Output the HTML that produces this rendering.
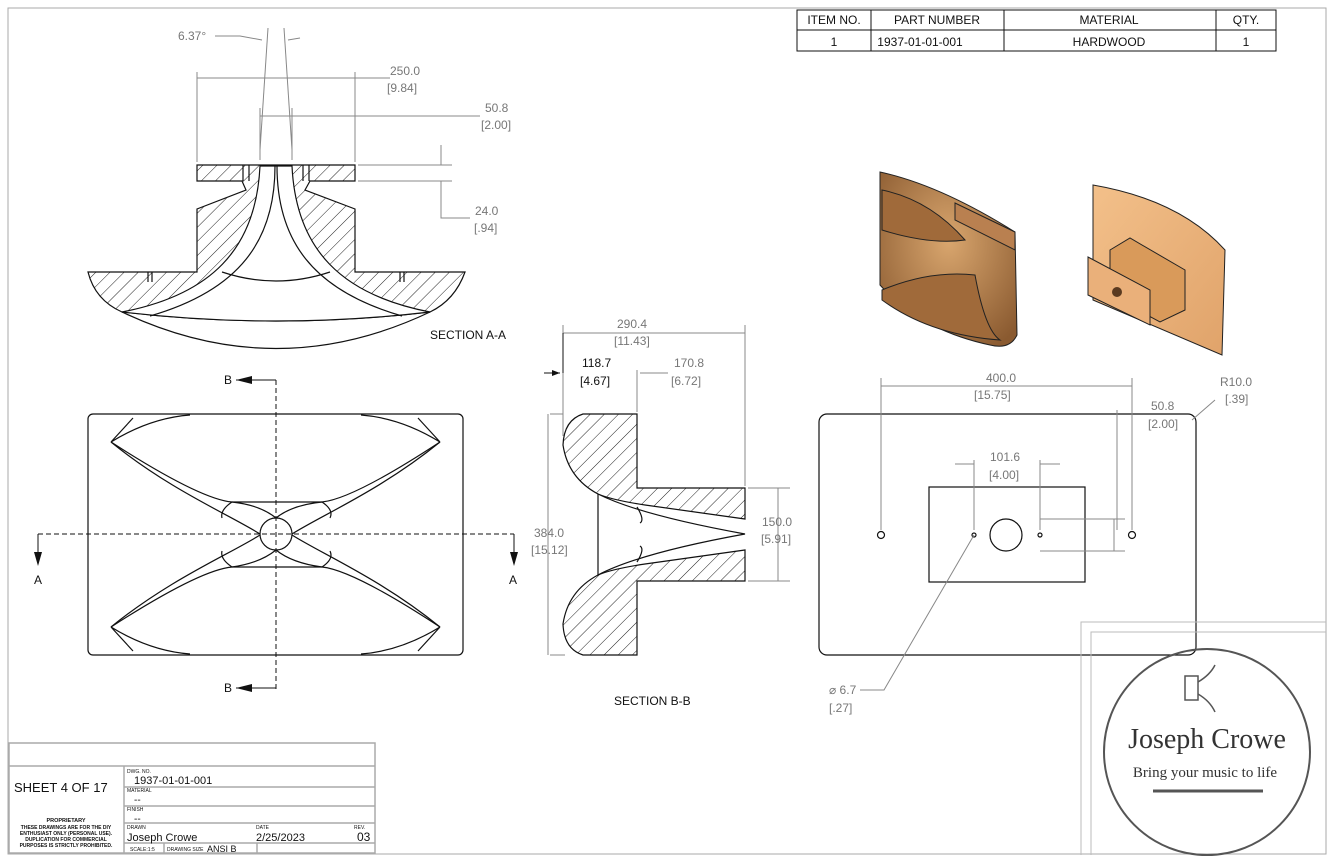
<!DOCTYPE html>
<html><head><meta charset="utf-8"><style>
html,body{margin:0;padding:0;background:#fff}
svg{display:block}
text{font-family:"Liberation Sans",sans-serif}
.d{fill:#777;font-size:12px}
.g{stroke:#888;stroke-width:1;fill:none}
.k{stroke:#111;stroke-width:1.2}
.n{fill:none}
</style></head><body>
<svg width="1334" height="862" viewBox="0 0 1334 862" xmlns="http://www.w3.org/2000/svg">
<defs>
<pattern id="h" width="10" height="10" patternUnits="userSpaceOnUse" patternTransform="rotate(45)">
<rect width="10" height="10" fill="#fff"/><line x1="0" y1="0" x2="0" y2="10" stroke="#222" stroke-width="1"/>
</pattern>
<radialGradient id="w1" cx="0.5" cy="0.4" r="0.7"><stop offset="0" stop-color="#d9a66e"/><stop offset="1" stop-color="#8a5a30"/></radialGradient>
<linearGradient id="w2" x1="0" y1="0" x2="1" y2="1"><stop offset="0" stop-color="#f3c08a"/><stop offset="1" stop-color="#e0a36a"/></linearGradient>
</defs>
<rect x="8" y="8" width="1318" height="846" fill="none" stroke="#aaa"/>

<!-- BOM -->
<g stroke="#111" fill="none">
<rect x="797" y="10" width="479" height="41"/>
<line x1="797" y1="30" x2="1276" y2="30"/>
<line x1="871" y1="10" x2="871" y2="51"/><line x1="1004" y1="10" x2="1004" y2="51"/><line x1="1216" y1="10" x2="1216" y2="51"/>
</g>
<g font-size="12" fill="#111" text-anchor="middle">
<text x="834" y="24">ITEM NO.</text><text x="937" y="24">PART NUMBER</text><text x="1109" y="24">MATERIAL</text><text x="1246" y="24">QTY.</text>
<text x="834" y="46">1</text><text x="920" y="46">1937-01-01-001</text><text x="1109" y="46">HARDWOOD</text><text x="1246" y="46">1</text>
</g>

<!-- Section A-A -->
<path d="M197,165 H355 V181 H310 L305,190 L355,209 V272 H465 Q455,300 430,312 Q276,330 122,312 Q95,300 88,272 H197 V209 L246,190 L242,181 H197 Z" style="fill:url(#h)" class="k"/>
<path d="M260,166 C256,250 210,295 122,312 Q276,330 430,312 C342,295 296,250 292,166 Z" style="fill:#fff" class="k"/>
<path d="M275,166 C275,240 240,290 150,316 M277,166 C277,240 312,290 402,316" class="k n"/>
<path d="M222,272 Q276,290 330,272" class="k n"/>
<path d="M122,312 Q276,385 430,312" class="k n"/>
<path d="M243,165 V181 M249,165 V181 M303,165 V181 M309,165 V181 M148,272 V282 M152,272 V282 M400,272 V282 M404,272 V282" class="k n" stroke-width="0.8"/>
<g class="g">
<line x1="197" y1="162" x2="197" y2="72"/><line x1="355" y1="162" x2="355" y2="72"/><line x1="197" y1="78" x2="355" y2="78"/><line x1="355" y1="78" x2="390" y2="78"/>
<line x1="260" y1="160" x2="260" y2="108"/><line x1="292" y1="160" x2="292" y2="108"/><line x1="260" y1="116" x2="480" y2="116"/>
<line x1="260" y1="150" x2="268" y2="28"/><line x1="292" y1="150" x2="284" y2="28"/><path d="M215,36 L240,36 L262,40 M288,40 L300,38"/>
<line x1="358" y1="165" x2="452" y2="165"/><line x1="358" y1="181" x2="452" y2="181"/><path d="M441,145 V165 M441,181 V218 H470"/>
</g>
<g class="d"><text x="178" y="40">6.37°</text><text x="390" y="75">250.0</text><text x="387" y="92">[9.84]</text>
<text x="485" y="112">50.8</text><text x="481" y="129">[2.00]</text><text x="475" y="215">24.0</text><text x="474" y="232">[.94]</text></g>
<text x="430" y="339" font-size="12" fill="#111">SECTION A-A</text>

<!-- Front view -->
<rect x="88" y="414" width="375" height="241" rx="5" class="k n"/>
<g class="k n" stroke-width="1">
<path d="M111,442 Q150,418 190,415 M440,442 Q401,418 361,415 M111,442 L133,418 M440,442 L418,418"/>
<path d="M111,442 C170,480 210,500 232,502 H322 C342,500 382,480 440,442"/>
<path d="M111,442 C170,490 230,515 260,534 M440,442 C381,490 322,515 292,534"/>
<path d="M232,502 Q220,510 222,518 M322,502 Q334,510 330,518"/>
<path d="M111,627 Q150,651 190,654 M440,627 Q401,651 361,654 M111,627 L133,651 M440,627 L418,651"/>
<path d="M111,627 C170,589 210,569 232,567 H322 C342,569 382,589 440,627"/>
<path d="M111,627 C170,579 230,554 260,535 M440,627 C381,579 322,554 292,535"/>
<path d="M232,567 Q220,559 222,551 M322,567 Q334,559 330,551"/>
<circle cx="276" cy="534" r="16"/>
<path d="M276,518 Q260,505 232,502 M276,518 Q292,505 322,502 M276,550 Q260,563 232,567 M276,550 Q292,563 322,567"/>
</g>
<g stroke="#111" stroke-dasharray="5,3" fill="none"><line x1="276" y1="380" x2="276" y2="690"/><line x1="38" y1="534" x2="514" y2="534"/></g>
<g stroke="#111" fill="none"><path d="M236,380 H276 M236,688 H276 M38,534 V560 M514,534 V560"/></g>
<g fill="#111"><path d="M236,380 l16,-4 v8z M236,688 l16,-4 v8z M38,566 l-4,-14 h8z M514,566 l-4,-14 h8z"/></g>
<g font-size="12" fill="#111"><text x="224" y="384">B</text><text x="224" y="692">B</text><text x="34" y="584">A</text><text x="509" y="584">A</text></g>

<!-- Section B-B -->
<path d="M583,414 H637 V488 H745 V519 L645,505 Q612,500 598,494 Q568,478 563,445 Q564,420 583,414 Z" style="fill:url(#h)" class="k"/>
<path d="M583,655 H637 V581 H745 V550 L645,564 Q612,569 598,575 Q568,591 563,624 Q564,649 583,655 Z" style="fill:url(#h)" class="k"/>
<path d="M598,494 Q640,515 745,534 Q640,553 598,575 Z" style="fill:#fff" class="k" stroke-width="1"/>
<path d="M637,507 Q645,520 640,523 M637,562 Q645,549 640,546" class="k n" stroke-width="1"/>
<g class="g">
<line x1="563" y1="436" x2="563" y2="325"/><line x1="745" y1="486" x2="745" y2="325"/><line x1="563" y1="333" x2="745" y2="333"/>
<line x1="637" y1="412" x2="637" y2="370"/><line x1="640" y1="373" x2="668" y2="373"/>
<line x1="748" y1="488" x2="790" y2="488"/><line x1="748" y1="581" x2="790" y2="581"/><line x1="778" y1="488" x2="778" y2="581"/>
<line x1="550" y1="414" x2="563" y2="414"/><line x1="550" y1="655" x2="565" y2="655"/><line x1="548" y1="414" x2="548" y2="655"/>
</g>
<path d="M544,373 H560" stroke="#111"/><path d="M560,373 l-8,-3 v6z" fill="#111"/>
<line x1="563" y1="373" x2="563" y2="333" stroke="#111"/>
<g class="d"><text x="617" y="328">290.4</text><text x="614" y="345">[11.43]</text><text x="674" y="367">170.8</text><text x="671" y="385">[6.72]</text>
<text x="762" y="526">150.0</text><text x="761" y="543">[5.91]</text><text x="534" y="537">384.0</text><text x="531" y="554">[15.12]</text></g>
<text x="582" y="367" font-size="12" fill="#111">118.7</text><text x="580" y="385" font-size="12" fill="#111">[4.67]</text>
<text x="614" y="705" font-size="12" fill="#111">SECTION B-B</text>

<!-- Right view -->
<rect x="819" y="414" width="377" height="241" rx="8" class="k n"/>
<rect x="929" y="487" width="156" height="95" class="k n"/>
<circle cx="1006" cy="535" r="16" class="k n"/>
<g class="k n" stroke-width="1"><circle cx="881" cy="535" r="3.5"/><circle cx="1132" cy="535" r="3.5"/><circle cx="974" cy="535" r="2"/><circle cx="1040" cy="535" r="2"/></g>
<g class="g">
<line x1="881" y1="530" x2="881" y2="378"/><line x1="1132" y1="530" x2="1132" y2="378"/><line x1="881" y1="386" x2="1132" y2="386"/>
<line x1="1117" y1="530" x2="1117" y2="410"/>
<line x1="974" y1="530" x2="974" y2="460"/><line x1="1040" y1="530" x2="1040" y2="460"/><line x1="955" y1="464" x2="974" y2="464"/><line x1="1040" y1="464" x2="1060" y2="464"/>
<line x1="1040" y1="519" x2="1125" y2="519"/><line x1="1040" y1="551" x2="1125" y2="551"/><line x1="1114" y1="519" x2="1114" y2="551"/>
<path d="M974,535 L884,690 H860 M1192,420 L1215,400"/>
</g>
<g class="d"><text x="986" y="382">400.0</text><text x="974" y="399">[15.75]</text><text x="990" y="461">101.6</text><text x="989" y="479">[4.00]</text>
<text x="1151" y="410">50.8</text><text x="1148" y="428">[2.00]</text><text x="1220" y="386">R10.0</text><text x="1225" y="403">[.39]</text>
<text x="829" y="694">⌀ 6.7</text><text x="829" y="712">[.27]</text></g>

<!-- isometric -->
<path d="M880,172 Q940,185 1015,232 L1017,335 Q1010,350 990,345 Q920,330 880,285 Z" fill="url(#w1)" stroke="#222"/>
<path d="M882,190 Q930,200 965,240 Q930,245 882,230 Z M882,290 Q930,270 975,275 Q985,330 1000,340 Q930,335 882,300Z" fill="#a06a3a" stroke="#222"/>
<path d="M955,203 L1015,232 V250 L955,220 Z" fill="#b98050" stroke="#222"/>
<path d="M1093,185 Q1180,200 1225,250 L1222,355 L1093,300 Z" fill="url(#w2)" stroke="#222"/>
<path d="M1110,250 L1130,238 L1185,270 V310 L1160,322 L1110,295 Z" fill="#d99a5a" stroke="#222"/>
<path d="M1088,257 L1150,290 V325 L1088,295 Z" fill="#eab07a" stroke="#222"/>
<circle cx="1117" cy="292" r="5" fill="#5a3a20"/>

<!-- logo -->
<g fill="none" stroke="#bbb"><path d="M1081,855 V622 H1326 M1091,855 V632 H1326"/></g>
<circle cx="1207" cy="752" r="103" fill="none" stroke="#555" stroke-width="2"/>
<rect x="1185" y="676" width="13" height="24" fill="none" stroke="#555" stroke-width="1.5"/>
<path d="M1198,682 Q1210,675 1215,665 M1198,694 Q1210,701 1215,712" fill="none" stroke="#555" stroke-width="1.5"/>
<text x="1207" y="748" text-anchor="middle" font-size="28" fill="#333" style="font-family:'Liberation Serif',serif">Joseph Crowe</text>
<text x="1205" y="777" text-anchor="middle" font-size="15" fill="#333" style="font-family:'Liberation Serif',serif">Bring your music to life</text>
<line x1="1153" y1="791" x2="1263" y2="791" stroke="#555" stroke-width="3"/>

<!-- title block -->
<g fill="none" stroke="#aaa" stroke-width="1.5">
<rect x="9" y="743" width="366" height="110"/>
<line x1="9" y1="766" x2="375" y2="766"/>
<line x1="124" y1="766" x2="124" y2="853"/>
<line x1="124" y1="787" x2="375" y2="787"/><line x1="124" y1="806" x2="375" y2="806"/><line x1="124" y1="823" x2="375" y2="823"/>
<line x1="124" y1="843" x2="375" y2="843"/><line x1="164" y1="843" x2="164" y2="853"/><line x1="257" y1="843" x2="257" y2="853"/>
</g>
<g fill="#111">
<text x="14" y="792" font-size="13">SHEET 4 OF 17</text>
<text x="66" y="822" font-size="5.5" text-anchor="middle" font-weight="bold">PROPRIETARY</text>
<text x="66" y="829" font-size="5" text-anchor="middle" font-weight="bold">THESE DRAWINGS ARE FOR THE DIY</text>
<text x="66" y="835" font-size="5" text-anchor="middle" font-weight="bold">ENTHUSIAST ONLY (PERSONAL USE).</text>
<text x="66" y="841" font-size="5" text-anchor="middle" font-weight="bold">DUPLICATION FOR COMMERCIAL</text>
<text x="66" y="847" font-size="5" text-anchor="middle" font-weight="bold">PURPOSES IS STRICTLY PROHIBITED.</text>
<text x="127" y="773" font-size="5">DWG. NO.</text><text x="134" y="784" font-size="11">1937-01-01-001</text>
<text x="127" y="792" font-size="5">MATERIAL</text><text x="134" y="803" font-size="10">--</text>
<text x="127" y="811" font-size="5">FINISH</text><text x="134" y="822" font-size="10">--</text>
<text x="127" y="829" font-size="5">DRAWN</text><text x="127" y="841" font-size="11">Joseph Crowe</text>
<text x="256" y="829" font-size="5">DATE</text><text x="256" y="841" font-size="11">2/25/2023</text>
<text x="354" y="829" font-size="5">REV.</text><text x="357" y="841" font-size="12">03</text>
<text x="130" y="851" font-size="5">SCALE:1:5</text><text x="167" y="851" font-size="5">DRAWING SIZE</text><text x="207" y="852" font-size="9">ANSI B</text>
</g>
</svg>
</body></html>
